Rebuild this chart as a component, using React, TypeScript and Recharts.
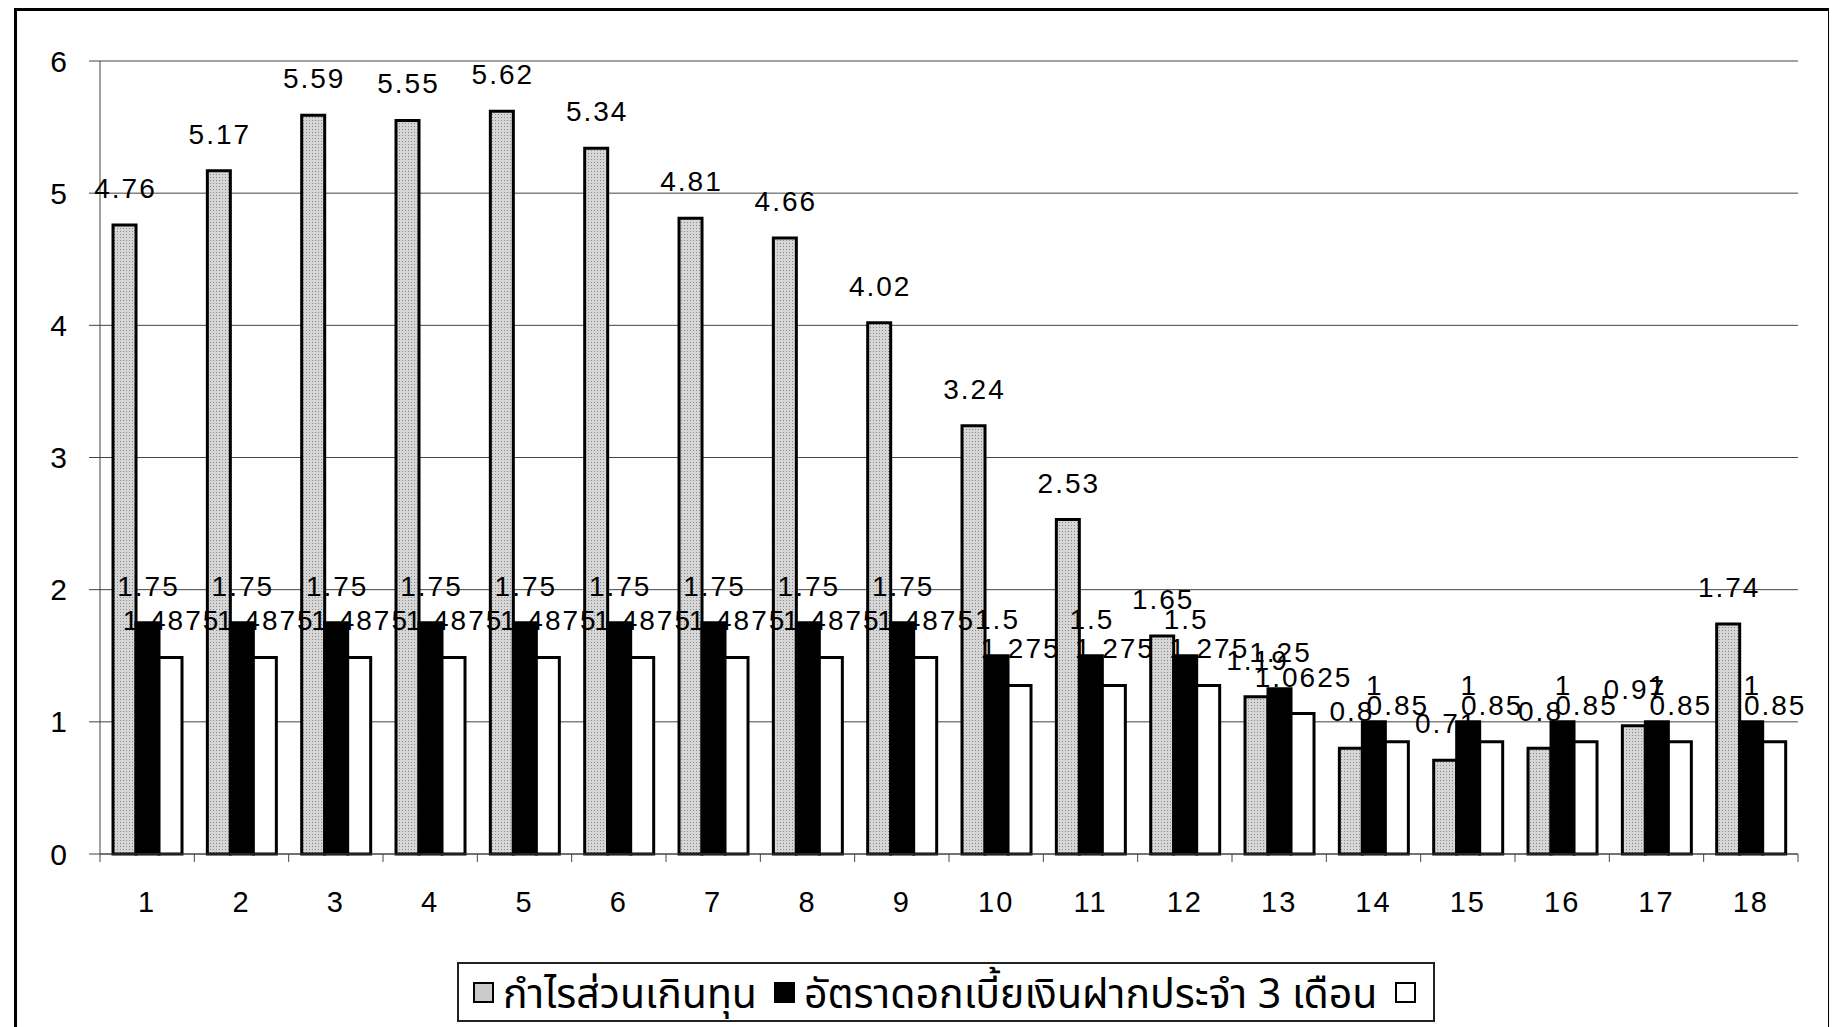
import { BarChart, Bar, XAxis, YAxis, CartesianGrid, Legend, LabelList } from "recharts";

// categories 1..18
const categories = ["1", "2", "3", "4", "5", "6", "7", "8", "9", "10", "11", "12", "13", "14", "15", "16", "17", "18"];

// กำไรส่วนเกินทุน
const profitValues = [4.76, 5.17, 5.59, 5.55, 5.62, 5.34, 4.81, 4.66, 4.02, 3.24, 2.53, 1.65, 1.19, 0.8, 0.71, 0.8, 0.97, 1.74];

// อัตราดอกเบี้ยเงินฝากประจำ 3 เดือน
const depositRate = [1.75, 1.75, 1.75, 1.75, 1.75, 1.75, 1.75, 1.75, 1.75, 1.5, 1.5, 1.5, 1.25, 1, 1, 1, 1, 1];

// third (unnamed) series
const thirdSeries = [1.4875, 1.4875, 1.4875, 1.4875, 1.4875, 1.4875, 1.4875, 1.4875, 1.4875, 1.275, 1.275, 1.275, 1.0625, 0.85, 0.85, 0.85, 0.85, 0.85];

const yTicks = [0, 1, 2, 3, 4, 5, 6];

const profitName = "กำไรส่วนเกินทุน";
const rateName = "อัตราดอกเบี้ยเงินฝากประจำ 3 เดือน";

const FONT = '"Liberation Sans", Arial, sans-serif';
const THAI_FONT = '"Noto Sans", "Noto Sans Thai", "DejaVu Sans", sans-serif';

const data = categories.map((name, i) => ({
  name,
  profit: profitValues[i],
  rate: depositRate[i],
  other: thirdSeries[i],
}));

function XTick(props: any) {
  const { x, y, payload, index } = props;
  const half = payload && payload.offset ? payload.offset : 47.2;
  return (
    <g>
      <line x1={x - half} x2={x - half} y1={y} y2={y + 8} stroke="#444" />
      {index === categories.length - 1 && (
        <line x1={x + half} x2={x + half} y1={y} y2={y + 8} stroke="#444" />
      )}
      <text x={x} y={y + 58} textAnchor="middle" fontSize={29} letterSpacing={2} fill="#000" fontFamily={FONT}>
        {payload.value}
      </text>
    </g>
  );
}

function TopLabel(props: any) {
  const { x, y, width, value } = props;
  return (
    <text x={x + width / 2 + 1} y={y - 27} textAnchor="middle" fontSize={28} letterSpacing={2} fill="#000" fontFamily={FONT}>
      {value}
    </text>
  );
}

function Swatch({ fill }: { fill: string }) {
  return <span style={{ display: "inline-block", flex: "none", width: 17, height: 17, border: "2.5px solid #000", background: fill }} />;
}

function LegendBox() {
  return (
    <div
      style={{
        marginLeft: 440,
        width: 978,
        height: 60,
        boxSizing: "border-box",
        border: "2px solid #222",
        display: "flex",
        alignItems: "center",
        paddingLeft: 14,
        fontFamily: THAI_FONT,
        fontSize: 41,
        lineHeight: "56px",
        whiteSpace: "nowrap",
        color: "#000",
      }}
    >
      <Swatch fill="#cbcbcb" />
      <span style={{ marginLeft: 9, marginRight: 17 }}>{profitName}</span>
      <Swatch fill="#000" />
      <span style={{ marginLeft: 9, marginRight: 17 }}>{rateName}</span>
      <Swatch fill="#fff" />
    </div>
  );
}

export default function App() {
  return (
    <div
      style={{
        position: "relative",
        marginLeft: 6,
        width: 1817,
        height: 1040,
        border: "3px solid #000",
        boxSizing: "border-box",
        background: "#fff",
        fontFamily: FONT,
      }}
    >
      <BarChart
        width={1811}
        height={1011}
        data={data}
        margin={{ top: 50, right: 30, left: 0, bottom: 0 }}
        barCategoryGap="13.8%"
        barGap={0}
      >
        <defs>
          <pattern id="stipple" width="3" height="3" patternUnits="userSpaceOnUse">
            <rect width="3" height="3" fill="#d6d6d6" />
            <rect x="1" y="1" width="1" height="1" fill="#8a8a8a" />
          </pattern>
        </defs>
        <CartesianGrid vertical={false} stroke="#444" />
        <XAxis
          dataKey="name"
          height={60}
          interval={0}
          tickSize={0}
          tickMargin={0}
          tickLine={false}
          axisLine={{ stroke: "#444" }}
          tick={<XTick />}
        />
        <YAxis
          width={83}
          domain={[0, 6]}
          ticks={yTicks}
          tickSize={11}
          tickMargin={22}
          axisLine={{ stroke: "#444" }}
          tickLine={{ stroke: "#444" }}
          tick={{ fontSize: 30, fill: "#000", fontFamily: FONT }}
        />
        <YAxis
          yAxisId="r"
          orientation="right"
          width={0}
          domain={[0, 6]}
          tick={false}
          tickLine={false}
          axisLine={{ stroke: "#777" }}
        />
        <Legend verticalAlign="bottom" content={<LegendBox />} wrapperStyle={{ paddingTop: 48 }} />
        <Bar dataKey="profit" name={profitName} fill="url(#stipple)" stroke="#000" strokeWidth={3} isAnimationActive={false}>
          <LabelList dataKey="profit" content={<TopLabel />} />
        </Bar>
        <Bar dataKey="rate" name={rateName} fill="#000" stroke="#000" strokeWidth={3} isAnimationActive={false}>
          <LabelList dataKey="rate" content={<TopLabel />} />
        </Bar>
        <Bar dataKey="other" name=" " fill="#fff" stroke="#000" strokeWidth={3} isAnimationActive={false}>
          <LabelList dataKey="other" content={<TopLabel />} />
        </Bar>
      </BarChart>
    </div>
  );
}
